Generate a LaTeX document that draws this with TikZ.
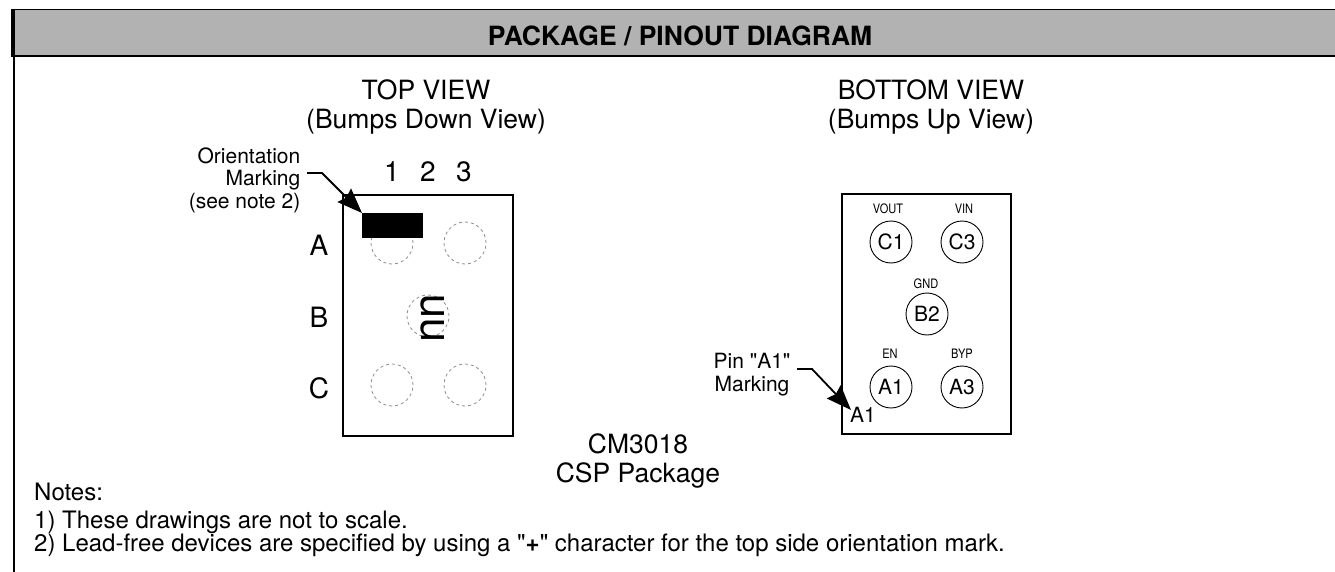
\documentclass[tikz,border=0pt]{standalone}
\usepackage{fontspec}
\setmainfont{TeX Gyre Heros}
\newfontfamily\plainfont{TeX Gyre Heros}
\newcommand{\stq}{{\plainfont"}}
\usetikzlibrary{arrows.meta}
\tikzset{
  pkgbox/.style={draw=black,line width=2pt,fill=none},
  bump/.style={draw=black!45,dash pattern=on 3pt off 3pt,line width=0.8pt,circle,minimum size=42pt,inner sep=0pt},
  pin/.style={draw=black,line width=0.9pt,circle,minimum size=42pt,inner sep=0pt,font=\fontsize{21}{21}\selectfont},
  pinname/.style={font=\fontsize{13}{13}\selectfont,xscale=0.85,inner sep=0pt},
  axislabel/.style={font=\fontsize{28}{28}\selectfont,inner sep=0pt},
  caption/.style={font=\fontsize{26.5}{29.5}\selectfont,align=center,inner sep=0pt},
  smalltxt/.style={font=\fontsize{21}{22.5}\selectfont,inner sep=0pt},
  notetxt/.style={font=\fontsize{24}{24}\selectfont,anchor=west,inner sep=0pt},
  leader/.style={line width=1.8pt,-{Stealth[length=25pt,width=19pt,inset=3pt]}}
}
\begin{document}
\begin{tikzpicture}[x=1pt,y=-1pt]
  \useasboundingbox (0,0) rectangle (1335,572);

  % Header bar
  \fill[black!30] (14,10) rectangle (1335,56);
  \draw[line width=1.2pt] (11,9.5) -- (1335,9.5);
  \draw[line width=2pt] (11,56) -- (1335,56);
  \draw[line width=4pt] (13,9) -- (13,57);
  \draw[line width=2pt] (14,55) -- (14,572);
  \node[font=\fontsize{26.5}{26.5}\selectfont\bfseries,inner sep=0pt] (title) at (680,36) {PACKAGE / PINOUT DIAGRAM};

  % Captions
  \node[caption] (topview) at (426,107) {TOP VIEW\\(Bumps Down View)};
  \node[caption] (bottomview) at (931,107) {BOTTOM VIEW\\(Bumps Up View)};
  \node[caption] (package) at (638,461) {CM3018\\CSP Package};

  % Top view
  \draw[pkgbox] (343,195) rectangle (513,436);
  \node[axislabel] (num1) at (392,172) {1};
  \node[axislabel] (num2) at (428,172) {2};
  \node[axislabel] (num3) at (464,172) {3};
  \node[axislabel] (rowA) at (319,245) {A};
  \node[axislabel] (rowB) at (319,317) {B};
  \node[axislabel] (rowC) at (319,388) {C};
  \node[bump] (bumpA1) at (392,243) {};
  \node[bump] (bumpA3) at (465,243) {};
  \node[bump] (bumpB2) at (428,316) {};
  \node[bump] (bumpC1) at (392,385) {};
  \node[bump] (bumpC3) at (465,385) {};
  \fill[black] (362,213) rectangle (423,238);
  \node[rotate=90,font=\fontsize{44}{44}\selectfont,inner sep=0pt] (mark) at (433,318) {nn};
  \node[smalltxt,align=right,anchor=east] (orient) at (300.5,180) {Orientation\\Marking\\(see note 2)};
  \coordinate (orientstart) at (307,173);
  \coordinate (orienttip) at (362,213);
  \draw[leader] (orientstart) -- (322,173) -- (orienttip);

  % Bottom view
  \draw[pkgbox] (842,194) rectangle (1011,434);
  \foreach \name/\txt/\x/\y/\lbl/\lx/\ly in {c1/C1/891/242/VOUT/888/209,c3/C3/962/242/VIN/964/209,b2/B2/927/314/GND/926/284,a1/A1/891/387/EN/890/354,a3/A3/962/387/BYP/962/354} {
    \node[pin] (\name) at (\x,\y) {\txt};
    \node[pinname] (lbl\name) at (\lx,\ly) {\lbl};
  }
  \node[smalltxt,align=center] (pinmark) at (752,374.5) {Pin \stq A1\stq\\Marking};
  \node[font=\fontsize{21}{21}\selectfont,inner sep=0pt] (corner) at (863,415) {A1};
  \coordinate (pinstart) at (797,369);
  \coordinate (pintip) at (851,410);
  \draw[leader] (pinstart) -- (812,369) -- (pintip);

  % Notes
  \node[notetxt] (notes) at (34,492) {Notes:};
  \node[notetxt] (note1) at (34,522) {1) These drawings are not to scale.};
  \node[notetxt] (note2) at (34,545) {2) Lead-free devices are specified by using a \stq\textbf{+}\stq{} character for the top side orientation mark.};
\end{tikzpicture}
\end{document}
